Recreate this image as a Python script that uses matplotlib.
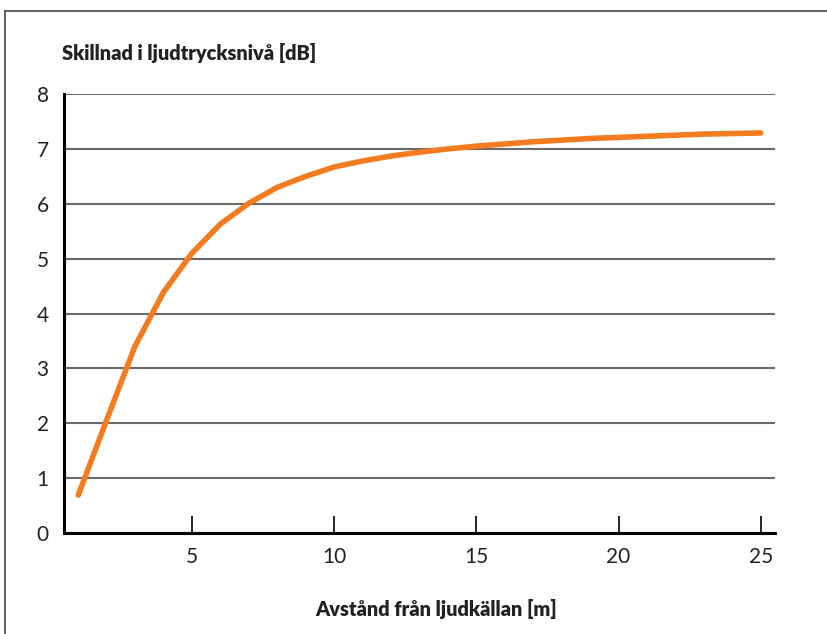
import matplotlib
matplotlib.use("Agg")
import matplotlib.pyplot as plt
from matplotlib.lines import Line2D

# avstånd [m] och skillnad i ljudtrycksnivå [dB]
distance = [1, 2, 3, 4, 5, 6, 7, 8, 9, 10, 11, 12, 13, 14, 15,
            16, 17, 18, 19, 20, 21, 22, 23, 24, 25]
level_diff = [0.69, 2.06, 3.41, 4.39, 5.10, 5.63, 6.01, 6.30, 6.50, 6.67,
              6.78, 6.87, 6.94, 7.00, 7.05, 7.09, 7.13, 7.16, 7.19, 7.21,
              7.23, 7.25, 7.27, 7.28, 7.29]
x_ticks = [5, 10, 15, 20, 25]
y_ticks = [0, 1, 2, 3, 4, 5, 6, 7, 8]

plt.rcParams["font.family"] = ["Lato", "DejaVu Sans"]

fig = plt.figure(figsize=(8.27, 6.34), dpi=100)
ax = fig.add_axes([0.0774, 0.1593, 0.8597, 0.6924])

ax.plot(distance, level_diff, color="#f47c20", linewidth=4,
        solid_capstyle="round", solid_joinstyle="round", zorder=3)

ax.set_xlim(0.5, 25.5)
ax.set_ylim(0, 8)
ax.set_yticks(y_ticks)
ax.set_xticks(x_ticks)
ax.yaxis.grid(True, color="#6a6a6a", linewidth=1.5)
ax.set_axisbelow(True)

for s in ("top", "right"):
    ax.spines[s].set_visible(False)
for s in ("left", "bottom"):
    ax.spines[s].set_linewidth(2.2)
    ax.spines[s].set_color("black")

ax.tick_params(axis="y", length=0, pad=11, labelsize=15, colors="#222222")
ax.tick_params(axis="x", direction="in", length=12, width=1.2,
               pad=10, labelsize=15, colors="black", labelcolor="#222222")

fig.text(62 / 827, 1 - 53 / 634, "Skillnad i ljudtrycksnivå [dB]",
         fontsize=14.4, fontweight="heavy", ha="left", va="center", color="#222222")
fig.text(436 / 827, 1 - 609 / 634, "Avstånd från ljudkällan [m]",
         fontsize=14.4, fontweight="heavy", ha="center", va="center", color="#222222")

# ram upptill och till vänster
fig.add_artist(Line2D([4.5 / 827, 1], [1 - 11 / 634, 1 - 11 / 634],
                      transform=fig.transFigure, color="#555555", linewidth=1.3))
fig.add_artist(Line2D([4.5 / 827, 4.5 / 827], [0, 1 - 11 / 634],
                      transform=fig.transFigure, color="#555555", linewidth=1.3))

fig.savefig("out.png", dpi=100)
